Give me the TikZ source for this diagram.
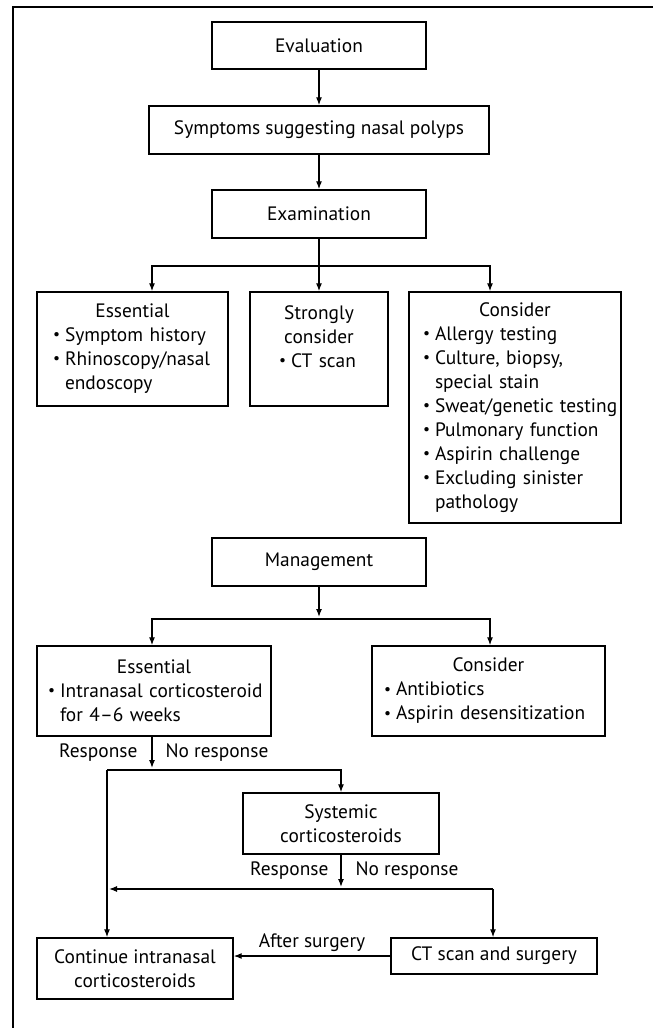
\documentclass[tikz,border=0pt]{standalone}
\usepackage{fontspec}
\usepackage{graphicx}
\setmainfont{PT Sans}
\usetikzlibrary{arrows.meta}

\newlength{\bulw}\setlength{\bulw}{6pt}
\newcommand{\bul}{\raisebox{0.2ex}{\scalebox{0.8}{\textbullet}}}
\newcommand{\itm}[1]{\par\noindent\makebox[\bulw][l]{\bul}\mbox{#1}}
\newcommand{\itmc}[1]{\par\noindent\hspace*{\bulw}\mbox{#1}}
\newcommand{\hd}[1]{{\centering #1\par}}

\begin{document}
\begin{tikzpicture}[x=0.5pt, y=-0.5pt, line width=0.6pt, >={Latex[length=4pt,width=3pt]},
    box/.style={draw, line width=0.7pt, font=\fontsize{9.7}{12}\selectfont, align=center, inner sep=2pt},
    lbox/.style={box, align=left},
    lbl/.style={font=\fontsize{9.7}{12}\selectfont, inner sep=0pt}]
    \useasboundingbox (0,0) rectangle (653,1028);
    \draw (13,1028) -- (13,7) -- (653,7); % frame

    % evaluation
    \node[box, minimum width=107pt, minimum height=23.5pt] (eval) at (319,45.5) {Evaluation};
    \node[box, minimum width=170pt, minimum height=24pt] (symp) at (319,130) {Symptoms suggesting nasal polyps};
    \node[box, minimum width=107pt, minimum height=24pt] (exam) at (319,214) {Examination};

    \node[lbox, text width=91.5pt, minimum height=57pt] (ess1) at (132.5,349)
        {\hd{Essential}\leftskip=6pt \itm{Symptom history}\itm{Rhinoscopy/nasal}\itmc{endoscopy}\par};
    \node[lbox, text width=65pt, minimum height=57pt] (strong) at (319,349)
        {\hd{Strongly\\consider}\leftskip=12.5pt \itm{CT scan}\par\mbox{}\par};
    \node[lbox, text width=102pt, minimum height=115.5pt] (cons1) at (515,407.5)
        {\hd{Consider}\leftskip=5pt \itm{Allergy testing}\itm{Culture, biopsy,}\itmc{special stain}%
         \itm{Sweat/genetic testing}\itm{Pulmonary function}\itm{Aspirin challenge}%
         \itm{Excluding sinister}\itmc{pathology}\par};

    % management
    \node[box, minimum width=107pt, minimum height=24pt] (mgmt) at (319,562) {Management};
    \node[lbox, text width=113pt, minimum height=45pt] (ess2) at (154,691)
        {\hd{Essential}\leftskip=3.5pt \itm{Intranasal corticosteroid}\itmc{for 4--6 weeks}\par};
    \node[lbox, text width=112.5pt, minimum height=45pt] (cons2) at (488.5,691)
        {\hd{Consider}\leftskip=4pt \itm{Antibiotics}\itm{Aspirin desensitization}\par};
    \node[box, minimum width=98pt, minimum height=30.5pt] (sys) at (341,823.5) {Systemic\\corticosteroids};
    \node[box, minimum width=98pt, minimum height=30.5pt] (cont) at (135,968.5) {Continue intranasal\\corticosteroids};
    \node[box, minimum width=103pt, minimum height=18pt] (ct) at (494,956) {CT scan and surgery};

    \draw[->] (eval) -- (symp);
    \draw[->] (symp) -- (exam);
    \draw[->] (exam) -- (strong);
    \coordinate (split1) at (319,266);
    \draw[->] (split1) -| ([xshift=9.75pt]ess1.north);
    \draw[->] (split1) -| ([xshift=-12.5pt]cons1.north);

    \coordinate (split2) at (319,619);
    \draw[->] (mgmt) -- (319,617);
    \draw[->] (split2) -| ([xshift=-1pt]ess2.north);
    \draw[->] (split2) -| ([xshift=0.75pt]cons2.north);

    \coordinate (loop) at (107,770);
    \draw[->] ([xshift=-1pt]ess2.south) -- (152,768)
        node[midway, lbl, left=7pt] {Response} node[midway, lbl, right=6.5pt] {No response};
    \draw[->] (loop) -| (sys.north);
    \draw[->] (loop) -- (loop |- cont.north);
    \draw[->] (sys) -- (341,887)
        node[midway, lbl, left=6pt] {Response} node[midway, lbl, right=7pt] {No response};
    \coordinate (join2) at (493,889);
    \draw[->] (join2) -- ([xshift=1pt]join2 -| loop);
    \draw[->] (join2) -- (join2 |- ct.north);
    \draw[->] (ct.west) -- (ct.west -| cont.east) node[midway, lbl, above, inner sep=2pt] {After surgery};
\end{tikzpicture}
\end{document}
